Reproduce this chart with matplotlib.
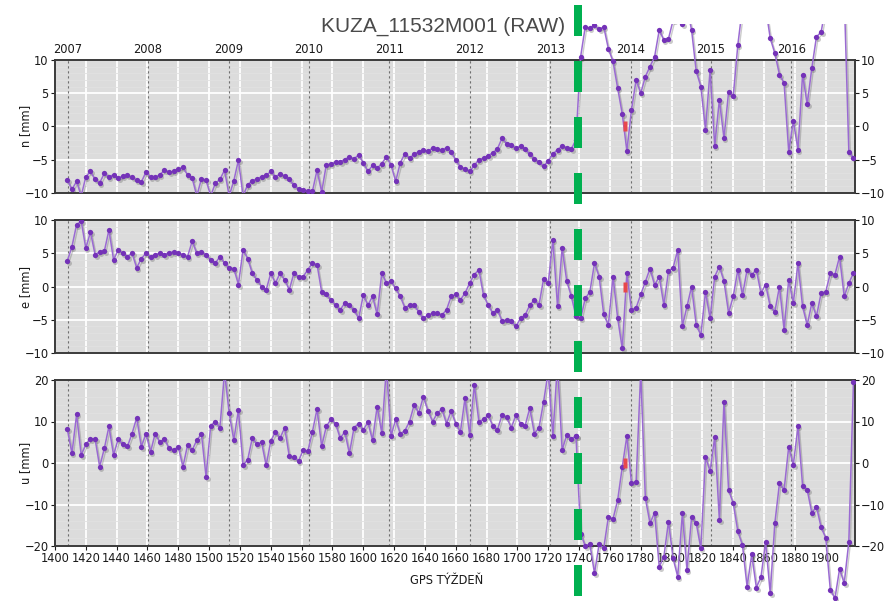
import numpy as np
import pandas as pd
import matplotlib
matplotlib.use('Agg')
import matplotlib.pyplot as plt
from matplotlib import transforms, font_manager
from matplotlib.lines import Line2D
from matplotlib.patches import Rectangle

# GPS weeks of the plotted solutions (every 3rd week)
weeks = np.arange(1408, 1919, 3)
break_week = 1739      # green dashed marker
red_week = 1769.5      # small red flag at 0 mm
years = [2007, 2008, 2009, 2010, 2011, 2012, 2013, 2014, 2015, 2016]
title = 'KUZA_11532M001 (RAW)'

n_vals = [
    -8.1, -9.5, -8.3, -10.5, -7.6, -6.8, -8.0, -8.5, -7.1, -7.6,
    -7.3, -7.8, -7.5, -7.4, -7.7, -8.1, -8.4, -6.9, -7.6, -7.7,
    -7.3, -6.6, -6.9, -6.8, -6.4, -6.2, -7.3, -7.8, -10.5, -7.9,
    -8.1, -10.5, -8.6, -8.0, -6.6, -10.5, -8.2, -5.1, -10.5, -8.8,
    -8.2, -7.9, -7.6, -7.4, -6.8, -7.6, -7.2, -7.5, -8.0, -8.9,
    -9.4, -9.6, -9.7, -9.8, -6.6, -9.9, -5.8, -5.7, -5.4, -5.3,
    -5.0, -4.6, -4.9, -4.3, -5.5, -6.8, -5.9, -6.3, -5.6, -4.6,
    -5.8, -8.3, -5.5, -4.1, -4.8, -4.2, -3.8, -3.6, -3.7, -3.3,
    -3.4, -3.6, -3.2, -3.8, -5.1, -6.1, -6.4, -6.8, -5.9, -5.0,
    -4.8, -4.4, -4.0, -3.4, -1.8, -2.6, -2.8, -3.3, -3.0, -3.4,
    -4.2, -4.9, -5.4, -6.0, -5.2, -4.2, -3.5, -3.0, -3.2, -3.4, -2.0,
    10.5, 15.0, 14.8, 15.2, 14.6, 15.0, 11.7, 9.8, 5.8, 1.9,
    -3.7, 2.5, 7.0, 5.0, 7.5, 9.0, 10.5, 14.5, 13.0, 13.2,
    16.0, 17.0, 15.5, 18.0, 14.5, 8.3, 6.0, -0.5, 8.5, -3.0,
    4.0, -1.8, 5.2, 4.5, 12.3, 18.0, 20.0, 20.0, 20.0, 20.0,
    18.0, 13.3, 11.0, 7.8, 6.5, -3.8, 0.8, -3.5, 7.8, 3.3,
    8.8, 13.5, 14.2, 18.0, 20.0, 20.0, 20.0, 20.0, -3.8, -4.8]

e_vals = [
    3.85, 6.0, 9.3, 9.8, 5.75, 8.2, 4.8, 5.2, 5.3, 8.5,
    4.0, 5.5, 5.0, 4.5, 5.0, 2.8, 4.2, 5.0, 4.5, 4.8,
    5.0, 4.8, 5.1, 5.2, 5.0, 4.8, 4.5, 6.8, 5.0, 5.2,
    4.8, 4.0, 3.5, 4.5, 3.5, 2.8, 2.7, 0.3, 5.5, 4.2,
    2.0, 1.0, 0.0, -0.5, 2.0, 0.5, 2.0, 1.0, -0.5, 2.0,
    1.5, 1.5, 2.5, 3.5, 3.3, -0.8, -1.2, -2.0, -2.8, -3.5,
    -2.5, -2.8, -3.5, -4.8, -1.3, -2.8, -1.5, -4.2, 2.0, 0.5,
    0.8, -0.3, -1.5, -3.2, -2.8, -2.8, -3.8, -4.8, -4.3, -4.0,
    -4.0, -4.3, -3.5, -1.5, -1.2, -2.0, -1.0, 0.5, 1.8, 2.5,
    -1.3, -2.8, -4.0, -3.5, -5.2, -5.0, -5.2, -6.0, -4.8, -4.3,
    -2.8, -2.0, -2.8, 1.2, 0.5, 7.0, -3.0, 5.8, 0.8, -1.5, -4.5,
    -4.8, -1.8, -0.8, 3.5, 1.5, -4.2, -5.8, 1.5, -4.7, -9.3,
    2.0, -3.5, -3.2, -1.2, 0.7, 2.7, 0.2, 1.5, -2.8, 2.3,
    2.8, 5.5, -6.0, -3.0, 0.0, -5.8, -7.3, -0.8, -4.8, 1.5,
    3.0, 0.8, -4.0, -1.5, 2.5, -1.3, 2.5, 1.8, 2.5, -1.0,
    0.3, -3.0, -3.8, 0.0, -6.5, 1.0, -2.5, 3.5, -3.0, -5.8,
    -2.5, -4.5, -1.0, -0.8, 2.0, 1.8, 4.5, -1.5, 0.5, 2.0]

u_vals = [
    8.2, 2.3, 11.7, 1.9, 4.5, 5.8, 5.8, -0.9, 3.5, 8.8,
    1.9, 5.8, 4.5, 4.0, 7.1, 10.9, 3.9, 7.1, 2.7, 7.1,
    5.0, 5.8, 3.5, 3.1, 3.9, -0.9, 4.3, 3.1, 5.5, 7.0,
    -3.3, 9.0, 10.0, 8.5, 22.0, 12.0, 5.5, 12.8, -0.5, 0.8,
    6.0, 4.5, 5.0, -0.6, 5.3, 7.5, 6.0, 8.5, 1.6, 1.4,
    0.5, 3.1, 2.8, 7.5, 13.0, 4.0, 8.8, 10.5, 9.5, 6.0,
    7.5, 2.3, 8.5, 9.5, 8.0, 9.8, 5.5, 13.6, 7.2, 23.0,
    6.5, 10.5, 7.0, 7.8, 10.0, 14.0, 12.0, 16.0, 12.5, 10.0,
    12.0, 13.0, 9.5, 12.5, 9.5, 7.5, 15.6, 6.8, 18.8, 10.0,
    10.5, 11.5, 9.0, 8.0, 11.5, 11.0, 8.5, 11.5, 9.5, 9.0,
    13.2, 7.1, 8.5, 14.8, 22.0, 6.5, 24.0, 3.1, 6.8, 5.8, 6.5,
    -17.0, -20.0, -19.5, -26.6, -19.5, -20.5, -13.0, -13.5, -9.0, -1.0,
    6.5, -4.9, -4.5, 22.0, -8.5, -14.5, -12.0, -25.0, -22.6, -14.1,
    -23.0, -27.4, -12.1, -25.8, -13.0, -14.5, -20.6, 1.5, -2.0, 6.3,
    -13.7, 14.8, -6.5, -9.7, -16.5, -19.8, -29.8, -22.0, -30.0, -27.5,
    -19.0, -31.4, -14.5, -4.9, -6.5, 3.9, -0.5, 8.8, -5.5, -6.5,
    -12.0, -10.5, -15.5, -18.0, -30.6, -32.6, -25.5, -29.0, -19.0, 19.5]


def gps_week(year):
    # GPS week of 1 January of a year
    return (pd.Timestamp(year=year, month=1, day=1) - pd.Timestamp('1980-01-06')).days / 7.0


def narrow_font(size):
    # the chart uses a narrow sans; take a condensed face if one is installed
    for f in font_manager.fontManager.ttflist:
        if f.style == 'normal' and f.weight in (400, 'normal') and (
                'Narrow' in f.name or f.stretch in ('condensed', 'semi-condensed')):
            return font_manager.FontProperties(fname=f.fname, size=size), True
    return font_manager.FontProperties(family='Liberation Sans', size=size - 1.2), False


W, H = 890, 601
fig = plt.figure(figsize=(W / 100, H / 100), dpi=100)
tfont, is_narrow = narrow_font(9.2)

# (label, values, ylim, major step, minor step, top px, bottom px, clip range after the break)
panels = [
    ('n [mm]', n_vals, (-10, 10), 5, 1, 60, 192.7, (-10, 15.4)),
    ('e [mm]', e_vals, (-10, 10), 5, 1, 220, 353, (-10, 10)),
    ('u [mm]', u_vals, (-20, 20), 10, 2, 380, 546, (-34, 20)),
]

split = int(np.searchsorted(weeks, break_week))
purple = '#7432b8'
line_col = '#9a6ad2'
axes = []
for ii, (lab, vals, ylim, step, mstep, top, bot, clip) in enumerate(panels):
    ax = fig.add_axes([55 / W, 1 - bot / H, 800 / W, (bot - top) / H])
    axes.append(ax)
    vals = np.array(vals)
    ax.set_facecolor('#dcdcdc')
    ax.set_xlim(1400, 1919)
    ax.set_ylim(*ylim)
    ax.set_xticks(np.arange(1400, 1920, 20))
    ax.set_yticks(np.arange(ylim[0], ylim[1] + 1, step))
    ax.set_yticks(np.arange(ylim[0], ylim[1] + 1, mstep), minor=True)
    ax.grid(True, which='major', color='white', lw=1.3)
    ax.grid(True, which='minor', axis='y', color='#e1e1e1', lw=0.6)
    ax.set_axisbelow(True)
    ax.tick_params(which='minor', length=0)
    ax.tick_params(axis='y', which='major', left=True, right=True, labelleft=True,
                   labelright=True, length=3, width=0.8, pad=1.5, colors='#1a1a1a')
    if ii < 2:
        ax.tick_params(axis='x', bottom=False, labelbottom=False)
    else:
        ax.tick_params(axis='x', length=3, width=0.8, pad=1.5, colors='#1a1a1a')
    for t in ax.xaxis.get_major_ticks() + ax.yaxis.get_major_ticks():
        t.label1.set_fontproperties(tfont)
        t.label2.set_fontproperties(tfont)
    for sp in ax.spines.values():
        sp.set_color('#3a3a3a')
        sp.set_linewidth(1.4)

    for y in years:
        ax.axvline(gps_week(y), color='#6e6e6e', lw=0.8, ls=(0, (2, 2.5)), zorder=1)

    fig.text(26 / W, 1 - (top + bot) / 2 / H, lab, rotation=90, ha='center', va='center',
             fontproperties=tfont, color='#1a1a1a')

    shadow = transforms.offset_copy(ax.transData, fig=fig, x=1.5, y=-2, units='dots')
    segs = [(slice(0, split), None), (slice(split - 1, None), clip)]
    for sl, cl in segs:
        arts = []
        arts += ax.plot(weeks[sl], vals[sl], color='#6a6a6a', alpha=0.35, lw=1.0,
                        marker='o', ms=3.6, mec='none', transform=shadow, zorder=2)
        arts += ax.plot(weeks[sl], vals[sl], color=line_col, lw=1.1, zorder=3)
        arts += ax.plot(weeks[sl], vals[sl], ls='none', marker='o', ms=3.8,
                        color=purple, mec='none', zorder=4)
        if cl is not None:
            for a in arts:
                rect = Rectangle((1400, cl[0]), 519, cl[1] - cl[0], transform=ax.transData)
                a.set_clip_path(rect)

    ax.plot([red_week], [0], ls='none', color='#e8484c', mec='none', ms=6.5, zorder=5,
            marker=[(-0.5, -1), (0.5, -1), (0.5, 1), (-0.5, 1), (-0.5, -1)])

# year labels above the top panel
ax_n = axes[0]
ytrans = transforms.blended_transform_factory(ax_n.transData, ax_n.transAxes)
for y in years:
    ax_n.text(gps_week(y), 1.053, str(y), transform=ytrans, ha='center', va='baseline',
              fontproperties=tfont, color='#1a1a1a')

fig.text(443.5 / W, 1 - 32 / H, title, ha='center', va='baseline', fontsize=15,
         family=['Liberation Sans', 'DejaVu Sans'], color='#4a4a4a')
fig.text(447 / W, 1 - 581 / H, 'G P S  T Ý Ž D E Ň' if not is_narrow else 'GPS TÝŽDEŇ',
         ha='center', va='center', fontproperties=tfont, color='#1a1a1a')

# green dashed break marker running through the whole figure
gtrans = transforms.blended_transform_factory(axes[2].transData, fig.transFigure)
lw_g = 5.76
fig.add_artist(Line2D([break_week, break_week], [1 - 5 / H, 0], transform=gtrans,
                      color='#00b050', lw=lw_g, ls=(0, (3.875, 3.125)), zorder=10))

fig.savefig('out.png', dpi=100)
